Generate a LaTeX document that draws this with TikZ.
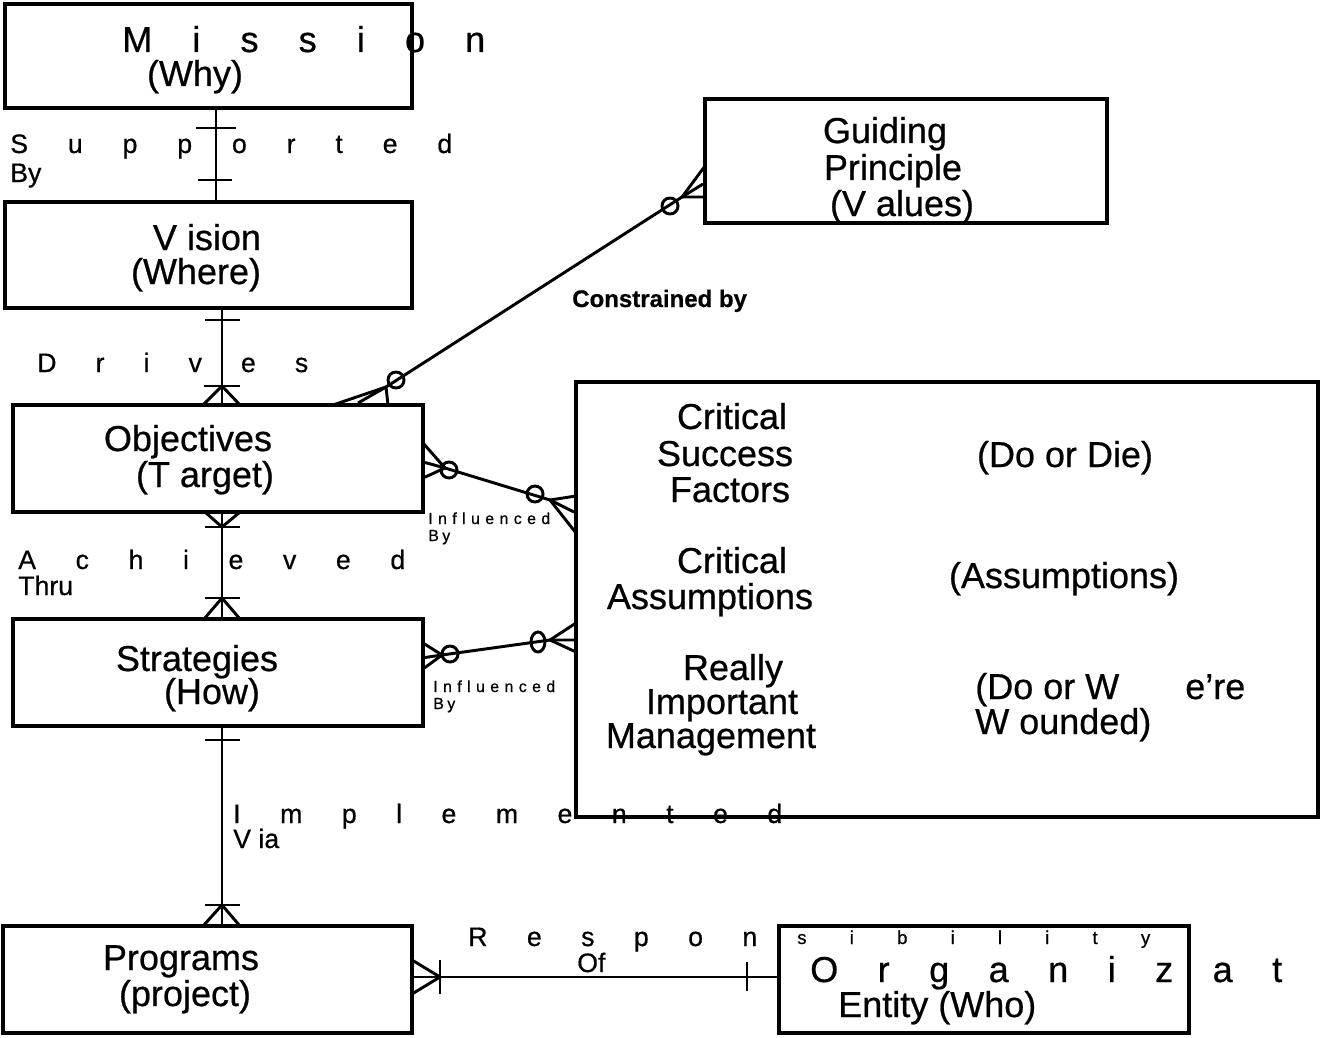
\documentclass[tikz,border=0pt]{standalone}
\usepackage{fontspec}
\setmainfont[FakeBold=0.6]{Liberation Sans}
\newlength\px \setlength\px{0.75pt}
% letters spread evenly over a given width
\newcommand\spreadtext[2]{\makebox[#1][s]{#2}}

\begin{document}
\begin{tikzpicture}[x=0.75pt,y=-0.75pt,
  box/.style={draw, line width=3pt, inner sep=0, rectangle},
  conn/.style={line width=2.2pt},
  sym/.style={line width=2.2pt},
  lbl/.style={inner sep=0, anchor=base, font=\fontsize{27}{30}\selectfont},
  lblw/.style={inner sep=0, anchor=base west, font=\fontsize{27}{30}\selectfont},
  rel/.style={inner sep=0, anchor=base west, font=\fontsize{20}{22}\selectfont},
  relsmall/.style={inner sep=0, anchor=base west, font=\fontsize{14}{15}\selectfont},
  tinylbl/.style={inner sep=0, anchor=base west, font=\fontsize{12}{13}\selectfont},
]
\useasboundingbox (0,0) rectangle (1320,1038);

% ---------- entity boxes ----------
\node[box, minimum width=407\px, minimum height=104\px] (mission) at (208.5,56) {};
\node[box, minimum width=407\px, minimum height=106\px] (vision)  at (208.5,255) {};
\node[box, minimum width=402\px, minimum height=124\px] (guide)   at (906,161) {};
\node[box, minimum width=410\px, minimum height=107\px] (obj)     at (218,458.5) {};
\node[box, minimum width=742\px, minimum height=435\px] (big)     at (947,599.5) {};
\node[box, minimum width=410\px, minimum height=107\px] (strat)   at (218,672.5) {};
\node[box, minimum width=409\px, minimum height=107\px] (prog)    at (207.5,979.5) {};
\node[box, minimum width=410\px, minimum height=107\px] (org)     at (984,979.5) {};

% ---------- box texts ----------
\node[lblw] (tMission) at (122,52) {\spreadtext{363\px}{M\hfill i\hfill s\hfill s\hfill i\hfill o\hfill n}};
\node[lbl] (tWhy) at (195,86) {(Why)};
\node[lbl] (tVision) at (207,250) {V ision};
\node[lbl] (tWhere) at (196,284) {(Where)};
\node[lbl] (tGuiding) at (885,143) {Guiding};
\node[lbl] (tPrinciple) at (893,180) {Principle};
\node[lbl] (tValues) at (902,216) {(V alues)};
\node[lbl] (tObj) at (188,451) {Objectives};
\node[lbl] (tTarget) at (205,487) {(T arget)};
\node[lbl] (tStrat) at (197,671) {Strategies};
\node[lbl] (tHow) at (212,704) {(How)};
\node[lbl] (tProg) at (181,970) {Programs};
\node[lbl] (tProject) at (185,1006) {(project)};
\node[lblw] (tOrg) at (810,982) {\spreadtext{472\px}{O\hfill r\hfill g\hfill a\hfill n\hfill i\hfill z\hfill a\hfill t}};
\node[lblw] (tEntity) at (838,1017) {Entity (Who)};

\node[lbl] (tCrit1) at (732,429) {Critical};
\node[lbl] (tSucc) at (725,466) {Success};
\node[lbl] (tFact) at (730,502) {Factors};
\node[lbl] (tDoDie) at (1065,467) {(Do or Die)};
\node[lbl] (tCrit2) at (732,573) {Critical};
\node[lbl] (tAss) at (710,609) {Assumptions};
\node[lbl] (tAssP) at (1064,588) {(Assumptions)};
\node[lbl] (tReally) at (733,680) {Really};
\node[lbl] (tImp) at (722,714) {Important};
\node[lbl] (tMgmt) at (711,748) {Management};
\node[lblw] (tDoW) at (975,699) {(Do or W};
\node[lblw] (tEre) at (1185,699) {e’re};
\node[lblw] (tWounded) at (975,734) {W ounded)};

% ---------- relationship labels ----------
\node[rel] (rSup) at (10,153) {\spreadtext{442\px}{S\hfill u\hfill p\hfill p\hfill o\hfill r\hfill t\hfill e\hfill d}};
\node[rel] (rBy) at (10,182) {By};
\node[rel] (rDrv) at (37,372) {\spreadtext{271\px}{D\hfill r\hfill i\hfill v\hfill e\hfill s}};
\node[rel] (rAch) at (18,569) {\spreadtext{387\px}{A\hfill c\hfill h\hfill i\hfill e\hfill v\hfill e\hfill d}};
\node[rel] (rThru) at (18,595) {Thru};
\node[rel] (rImp) at (233,823) {\spreadtext{549\px}{I\hfill m\hfill p\hfill l\hfill e\hfill m\hfill e\hfill n\hfill t\hfill e\hfill d}};
\node[rel] (rVia) at (233,848) {V ia};
\node[rel] (rResp) at (468,946) {\spreadtext{289\px}{R\hfill e\hfill s\hfill p\hfill o\hfill n}};
\node[relsmall] (rSib) at (797,944) {\spreadtext{353\px}{s\hfill i\hfill b\hfill i\hfill l\hfill i\hfill t\hfill y}};
\node[rel] (rOf) at (577,972) {Of};
\node[rel, font=\fontsize{18}{20}\selectfont\bfseries] (rCons) at (572,307) {Constrained by};
\node[tinylbl] (rInf1) at (428,524) {\spreadtext{122\px}{I\hfill n\hfill f\hfill l\hfill u\hfill e\hfill n\hfill c\hfill e\hfill d}};
\node[tinylbl] (rInfBy1) at (428,541) {\spreadtext{22\px}{B\hfill y}};
\node[tinylbl] (rInf2) at (433,692) {\spreadtext{122\px}{I\hfill n\hfill f\hfill l\hfill u\hfill e\hfill n\hfill c\hfill e\hfill d}};
\node[tinylbl] (rInfBy2) at (433,709) {\spreadtext{22\px}{B\hfill y}};

% ---------- connectors ----------
% Mission -- Vision (one to one)
\draw[conn] ([xshift=7.5\px]mission.south) -- ([xshift=7.5\px]vision.north);
\draw[sym] (196,128) -- (236,128);
\draw[sym] (198,180) -- (232,180);

% Vision -- Objectives (one to many)
\draw[conn] ([xshift=13.5\px]vision.south) -- ([xshift=4\px]obj.north);
\draw[sym] (205,320) -- (240,320);
\draw[sym] (204,386) -- (240,386);
\draw[sym] (203,405) -- (222,386) -- (240,405);

% Objectives -- Strategies (many to many)
\draw[conn] ([xshift=4\px]obj.south) -- ([xshift=4\px]strat.north);
\draw[sym] (205,527) -- (240,527);
\draw[sym] (205,512) -- (222,527) -- (240,512);
\draw[sym] (205,598) -- (240,598);
\draw[sym] (204,619) -- (222,598) -- (240,619);

% Strategies -- Programs (one to many)
\draw[conn] ([xshift=4\px]strat.south) -- ([xshift=14.5\px]prog.north);
\draw[sym] (205,740) -- (240,740);
\draw[sym] (205,905) -- (240,905);
\draw[sym] (203,926) -- (222,905) -- (240,926);

% Programs -- Organization (many to one)
\draw[conn] ([yshift=2.5\px]prog.east) -- ([yshift=2.5\px]org.west);
\draw[sym] (440,960) -- (440,994);
\draw[sym] (412,960) -- (440,977) -- (412,994);
\draw[sym] (747,962) -- (747,991);

% Objectives -- Guiding Principle (zero or many on both ends)
\draw[conn] ([xshift=140\px]obj.north) -- (386,387) -- (682,197) -- ([yshift=-23\px]guide.west);
\draw[sym] (333,405) -- (386,387) -- (388,405);
\draw[sym] (396,380) circle[radius=8];
\draw[sym] (705,166) -- (682,197) -- (705,197);
\draw[sym] (670,206) circle[radius=8];

% Objectives -- critical factors (zero or many on both ends)
\draw[conn] ([yshift=-4\px]obj.east) -- (445,468) -- (550,500) -- ([yshift=87.5\px]big.west);
\draw[sym] (423,443) -- (445,468) -- (423,478);
\draw[sym] (449,470) circle[radius=8];
\draw[sym] (576,496) -- (550,500) -- (576,533);
\draw[sym] (535,494) circle[radius=8];

% Strategies -- critical factors (zero or many on both ends)
\draw[conn] ([yshift=15\px]strat.east) -- (442,655) -- (550,640) -- ([yshift=-40.5\px]big.west);
\draw[sym] (423,643) -- (442,655) -- (423,669);
\draw[sym] (450,654) circle[radius=8];
\draw[sym] (576,623) -- (550,640) -- (576,652);
\draw[sym] (538,642) ellipse[x radius=7, y radius=10];

\end{tikzpicture}
\end{document}
